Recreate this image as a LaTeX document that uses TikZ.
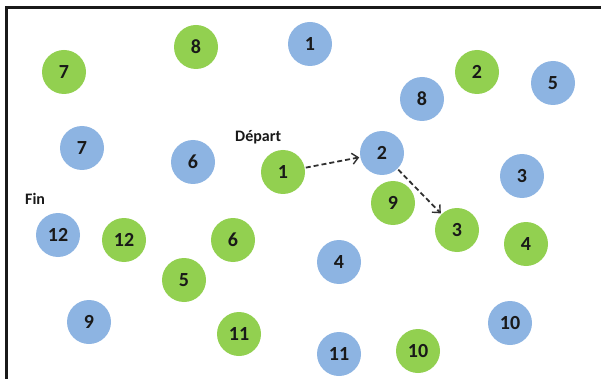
\documentclass[tikz,border=0pt]{standalone}
\usepackage{fontspec}
\setmainfont{Carlito}
\usetikzlibrary{arrows.meta}
\definecolor{gball}{RGB}{146,208,80}
\definecolor{bball}{RGB}{141,180,226}
\definecolor{ink}{RGB}{25,25,25}
\begin{document}
\begin{tikzpicture}[x=1pt,y=-1pt,
  ball/.style={circle,minimum size=44pt,inner sep=0pt,text=ink,font=\fontsize{20}{22}\selectfont\bfseries},
  gb/.style={ball,fill=gball},
  bb/.style={ball,fill=bball},
  lbl/.style={anchor=west,inner sep=0pt,text=ink,font=\fontsize{16}{18}\selectfont\bfseries},
  move/.style={draw=ink!90,line width=1.8pt,dashed,dash pattern=on 5pt off 3pt,-{Straight Barb[length=6pt,width=11pt,line width=1.4pt]},shorten >=1pt,shorten <=1pt}]
\useasboundingbox (0,0) rectangle (601,379);
\coordinate (fa) at (6,380);
\coordinate (fb) at (6,8);
\coordinate (fc) at (602,8);
\draw[line width=3pt,ink] (fa) -- (fb) -- (fc);
% green
\node[gb] (g7) at (64,72) {7};
\node[gb] (g8) at (196,47) {8};
\node[gb] (g1) at (283,172) {1};
\node[gb] (g2) at (477,72) {2};
\node[gb] (g9) at (393,203) {9};
\node[gb] (g3) at (457,230) {3};
\node[gb] (g4) at (526,244) {4};
\node[gb] (g12) at (124,240) {12};
\node[gb] (g6) at (233,240) {6};
\node[gb] (g5) at (184,280) {5};
\node[gb] (g11) at (239,334) {11};
\node[gb] (g10) at (418,351) {10};
% blue
\node[bb] (b1) at (310,44) {1};
\node[bb] (b5) at (553,83) {5};
\node[bb] (b8) at (422,99) {8};
\node[bb] (b7) at (82,148) {7};
\node[bb] (b6) at (193,162) {6};
\node[bb] (b2) at (382,153) {2};
\node[bb] (b3) at (522,176) {3};
\node[bb] (b12) at (58,235) {12};
\node[bb] (b4) at (339,262) {4};
\node[bb] (b9) at (89,322) {9};
\node[bb] (b10) at (510,323) {10};
\node[bb] (b11) at (339,354) {11};
% labels
\node[lbl] (dep) at (235,137) {Départ};
\node[lbl] (fin) at (25,199) {Fin};
% moves
\draw[move] (g1) -- (b2);
\draw[move] (b2) -- (g3);
\end{tikzpicture}
\end{document}
